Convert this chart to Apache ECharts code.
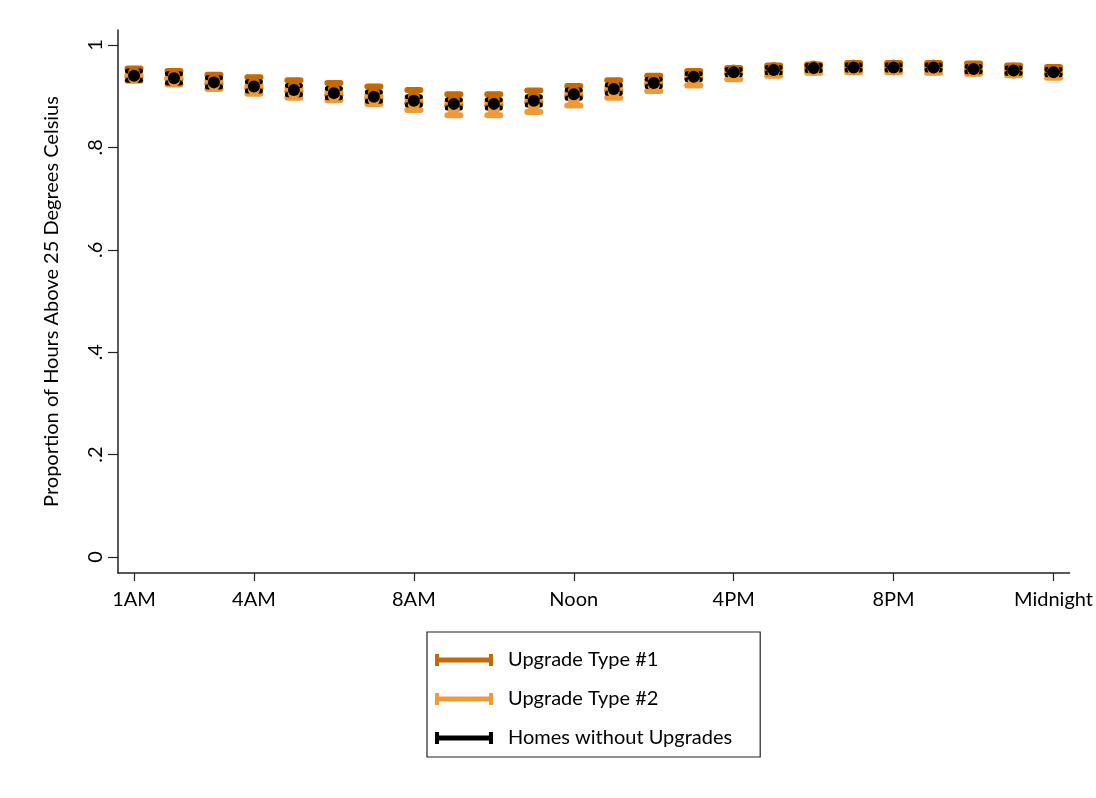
<!DOCTYPE html>
<html>
<head>
<meta charset="utf-8">
<script src="https://cdn.jsdelivr.net/npm/echarts@6/dist/echarts.min.js"></script>
<style>
html,body{margin:0;padding:0;background:#fff;}
#chart{width:1096px;height:798px;}
</style>
</head>
<body>
<div id="chart"></div>
<script>
// ---- data ----
const hours = [1,2,3,4,5,6,7,8,9,10,11,12,13,14,15,16,17,18,19,20,21,22,23,24];
const tickHours = [1,4,8,12,16,20,24];
const tickLabels = ['1AM','4AM','8AM','Noon','4PM','8PM','Midnight'];
const yTicks = [0,0.2,0.4,0.6,0.8,1];
const yTickLabels = ['0','.2','.4','.6','.8','1'];

// Upgrade Type #1
const t1Est = [.946,.941,.933,.926,.920,.914,.907,.899,.893,.893,.899,.910,.921,.932,.942,.950,.955,.958,.960,.960,.960,.957,.954,.951];
const t1Lo  = [.938,.933,.924,.915,.909,.902,.895,.886,.882,.882,.887,.900,.911,.924,.935,.945,.950,.954,.955,.955,.955,.950,.948,.945];
const t1Hi  = [.954,.949,.942,.937,.931,.926,.919,.912,.904,.904,.911,.920,.931,.940,.949,.955,.960,.962,.965,.965,.965,.964,.960,.957];
// Upgrade Type #2
const t2Est = [.936,.930,.922,.913,.906,.900,.893,.884,.876,.876,.882,.895,.907,.920,.931,.941,.947,.951,.952,.952,.952,.949,.946,.943];
const t2Lo  = [.930,.923,.914,.905,.897,.892,.885,.873,.863,.863,.869,.882,.897,.910,.921,.933,.940,.946,.947,.947,.946,.944,.941,.936];
const t2Hi  = [.942,.937,.930,.921,.915,.908,.901,.895,.889,.889,.895,.908,.917,.930,.941,.949,.954,.956,.957,.957,.958,.954,.951,.950];
// Homes without Upgrades
const bEst  = [.940,.935,.927,.919,.912,.906,.899,.891,.885,.885,.891,.904,.914,.926,.938,.947,.951,.955,.956,.956,.956,.953,.950,.947];
const bLo   = [.931,.926,.918,.910,.903,.897,.890,.883,.877,.877,.883,.896,.906,.919,.932,.942,.946,.950,.951,.951,.951,.948,.945,.942];
const bHi   = [.949,.944,.936,.928,.921,.915,.908,.899,.893,.893,.899,.912,.922,.933,.944,.952,.956,.960,.961,.961,.961,.958,.955,.952];

const seriesNames = ['Upgrade Type #1','Upgrade Type #2','Homes without Upgrades'];
const colors = ['#c26a04','#ee9a38','#000000'];

function rcapData(lo, hi){ return hours.map((h,i)=>[h, lo[i], hi[i]]); }
function ptData(est){ return hours.map((h,i)=>[h, est[i]]); }

function rcap(color, lw, stemW){
  return function(params, api){
    const x = api.value(0), lo = api.value(1), hi = api.value(2);
    const a = api.coord([x, lo]), b = api.coord([x, hi]);
    const hw = 6.5;
    const st = {stroke: color, lineWidth: lw, lineCap: 'round', fill: null};
    const stem = {stroke: color, lineWidth: stemW, lineCap: 'butt', fill: null};
    return {type:'group', children:[
      {type:'line', shape:{x1:a[0],y1:a[1],x2:b[0],y2:b[1]}, style:stem},
      {type:'line', shape:{x1:a[0]-hw,y1:a[1],x2:a[0]+hw,y2:a[1]}, style:st},
      {type:'line', shape:{x1:b[0]-hw,y1:b[1],x2:b[0]+hw,y2:b[1]}, style:st}
    ]};
  };
}

const FONT = 'Lato';
const FS = 20;
const iconPath = 'path://M0,0 H4 V3.5 H54 V0 H58 V12 H54 V8.5 H4 V12 H0 Z';

const chart = echarts.init(document.getElementById('chart'), null, {renderer:'canvas'});
chart.setOption({
  animation: false,
  backgroundColor: '#ffffff',
  textStyle: {fontFamily: FONT},
  grid: {left:118, right:26, top:30, bottom:225, containLabel:false},
  xAxis: {
    type:'value', min:0.6, max:24.4,
    axisLine:{show:true, onZero:false, lineStyle:{color:'#222', width:1.5}},
    axisTick:{show:true, customValues: tickHours, length:8, lineStyle:{color:'#222', width:1.2}},
    axisLabel:{show:true, customValues: tickHours, margin:17, color:'#000', fontFamily:FONT, fontSize:FS,
      formatter:(v)=>tickLabels[tickHours.indexOf(Math.round(v))] || ''},
    splitLine:{show:false}
  },
  yAxis: {
    type:'value', min:-0.03125, max:1.0293,
    name:'Proportion of Hours Above 25 Degrees Celsius',
    nameLocation:'middle', nameRotate:90, nameGap:56,
    nameTextStyle:{color:'#000', fontFamily:FONT, fontSize:FS},
    axisLine:{show:true, onZero:false, lineStyle:{color:'#222', width:1.5}},
    axisTick:{show:true, customValues: yTicks, length:10, lineStyle:{color:'#222', width:1.2}},
    axisLabel:{show:true, customValues: yTicks, rotate:90, margin:12, color:'#000', fontFamily:FONT, fontSize:FS,
      formatter:(v)=>{ const i = yTicks.findIndex(t=>Math.abs(t-v)<1e-6); return i>=0 ? yTickLabels[i] : ''; }},
    splitLine:{show:false}
  },
  legend: {
    orient:'vertical', left:427, top:632,
    padding:[18,28,9,8], itemGap:19,
    itemWidth:58, itemHeight:12,
    borderColor:'#222', borderWidth:1.2,
    textStyle:{color:'#000', fontFamily:FONT, fontSize:FS, lineHeight:20, padding:[0,0,0,10]},
    data: seriesNames.map((n,i)=>({name:n, icon:iconPath, itemStyle:{color:colors[i]}}))
  },
  series: [
    {name:seriesNames[0], type:'custom', renderItem: rcap(colors[0], 6, 11), data: rcapData(t1Lo, t1Hi),
      encode:{x:0, y:[1,2]}, itemStyle:{color:colors[0]}, silent:true},
    {name:seriesNames[1], type:'custom', renderItem: rcap(colors[1], 6, 11), data: rcapData(t2Lo, t2Hi),
      encode:{x:0, y:[1,2]}, itemStyle:{color:colors[1]}, silent:true},
    {name:seriesNames[2], type:'custom', renderItem: rcap(colors[2], 5, 5), data: rcapData(bLo, bHi),
      encode:{x:0, y:[1,2]}, itemStyle:{color:colors[2]}, silent:true},
    {name:'t1pt', type:'scatter', symbol:'circle', symbolSize:12, data: ptData(t1Est), itemStyle:{color:colors[0], opacity:1}, silent:true},
    {name:'t2pt', type:'scatter', symbol:'circle', symbolSize:12, data: ptData(t2Est), itemStyle:{color:colors[1], opacity:1}, silent:true},
    {name:'bpt', type:'scatter', symbol:'circle', symbolSize:12, data: ptData(bEst), itemStyle:{color:colors[2], opacity:1}, silent:true}
  ]
});
</script>
</body>
</html>
